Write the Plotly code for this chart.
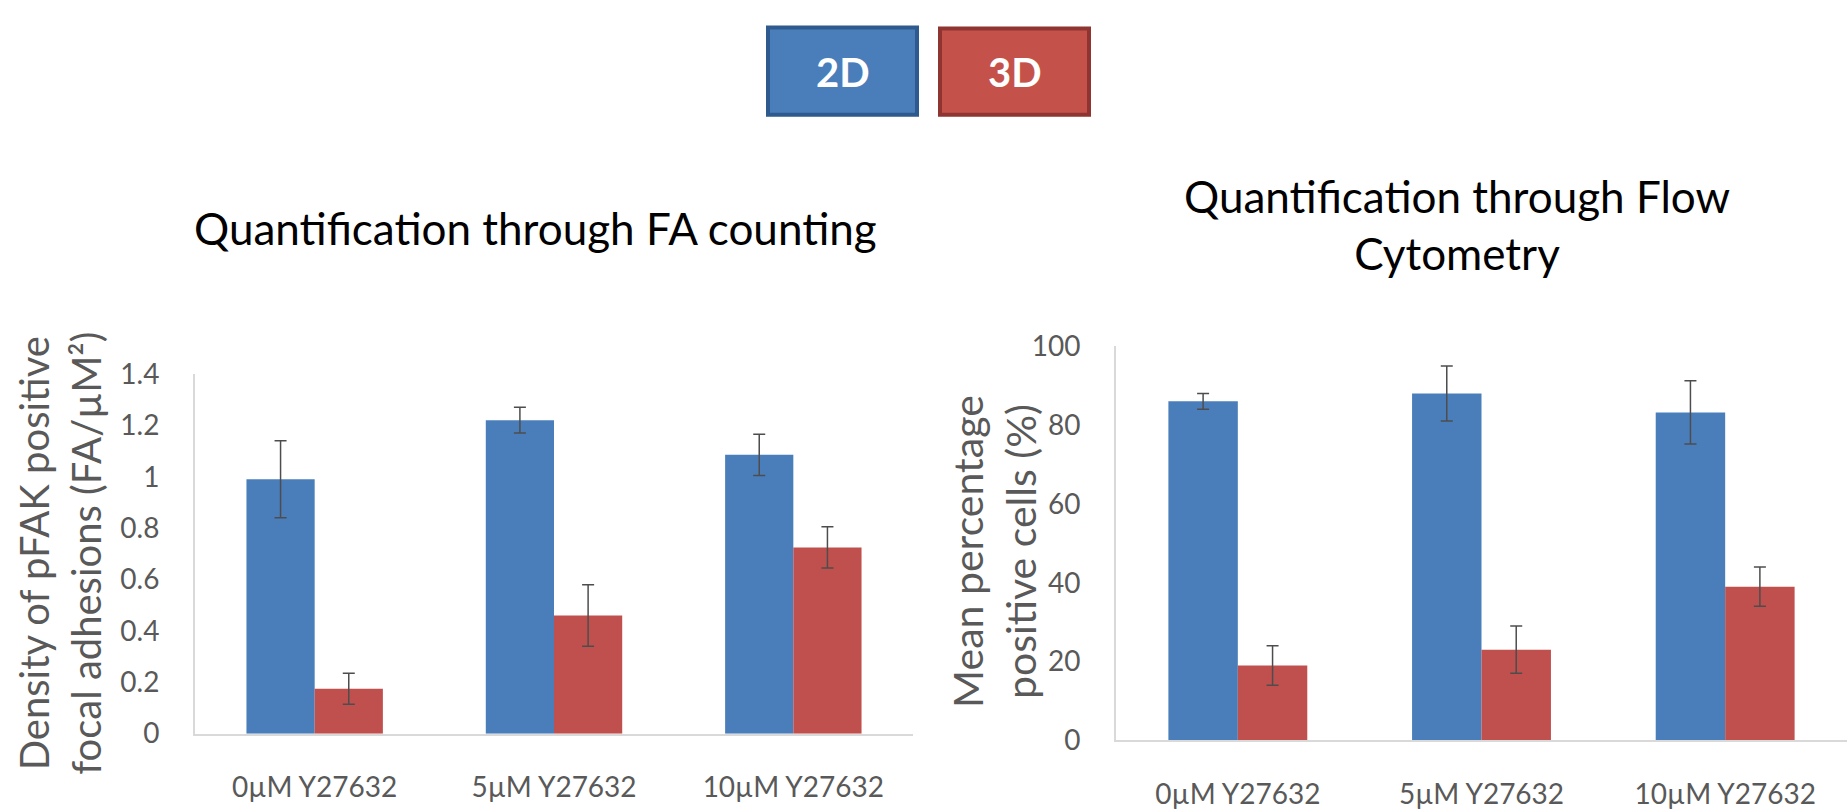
import plotly.graph_objects as go

categories = ["0µM Y27632", "5µM Y27632", "10µM Y27632"]
series_names = ["2D", "3D"]

fa_2d = [0.99, 1.22, 1.085]
fa_2d_err = [0.15, 0.05, 0.08]
fa_3d = [0.175, 0.46, 0.725]
fa_3d_err = [0.06, 0.12, 0.08]

flow_2d = [86, 88, 83.2]
flow_2d_err = [2, 7, 8]
flow_3d = [19, 23, 39]
flow_3d_err = [5, 6, 5]

fa_ticks = [0, 0.2, 0.4, 0.6, 0.8, 1, 1.2, 1.4]
fa_ticklabels = ["0", "0.2", "0.4", "0.6", "0.8", "1", "1.2", "1.4"]
flow_ticks = [0, 20, 40, 60, 80, 100]

BLUE = "#4A7EBB"
RED = "#C0504D"
ERR = "#4D4D4D"
GRAY_TXT = "#595959"
AXIS_LINE = "#D9D9D9"
FONT = "Lato"

W, H = 1847, 810

fig = go.Figure()

def add_bars(xa, ya, v2, e2, v3, e3):
    for name, vals, errs, col in [(series_names[0], v2, e2, BLUE), (series_names[1], v3, e3, RED)]:
        fig.add_trace(go.Bar(
            x=categories, y=vals, name=name, xaxis=xa, yaxis=ya,
            marker=dict(color=col, line=dict(width=0)),
            error_y=dict(type="data", array=errs, visible=True,
                         color=ERR, thickness=1.5, width=6),
            showlegend=False,
        ))

add_bars("x", "y", fa_2d, fa_2d_err, fa_3d, fa_3d_err)
add_bars("x2", "y2", flow_2d, flow_2d_err, flow_3d, flow_3d_err)

def px_x(p):
    return p / W

def px_y(p):
    return (H - p) / H

tick_font = dict(family=FONT, size=28, color=GRAY_TXT)

xaxis_common = dict(
    type="category", showgrid=False, zeroline=False,
    showline=True, linecolor=AXIS_LINE, linewidth=2,
    ticks="", tickfont=tick_font, ticklabelstandoff=28,
    fixedrange=True,
)
yaxis_common = dict(
    showgrid=False, zeroline=False, showline=True,
    linecolor=AXIS_LINE, linewidth=2, ticks="",
    tickfont=tick_font, ticklabelstandoff=28, fixedrange=True,
)

fig.update_layout(
    width=W, height=H,
    margin=dict(l=0, r=0, t=0, b=0),
    paper_bgcolor="white", plot_bgcolor="white",
    barmode="group", bargap=0.43, bargroupgap=0,
    font=dict(family=FONT),
    xaxis=dict(domain=[px_x(195), px_x(913)], anchor="y", **xaxis_common),
    yaxis=dict(domain=[px_y(748), px_y(372)], anchor="x", range=[0, 1.4],
               tickvals=fa_ticks, ticktext=fa_ticklabels, **yaxis_common),
    xaxis2=dict(domain=[px_x(1116), 1.0], anchor="y2", **xaxis_common),
    yaxis2=dict(domain=[px_y(755), px_y(343)], anchor="x2", range=[0, 100],
                tickvals=flow_ticks, **yaxis_common),
)

annotations = [
    dict(text="Quantification through FA counting", x=px_x(535), y=px_y(219),
         font=dict(family=FONT, size=44, color="black")),
    dict(text="Quantification through Flow<br>Cytometry", x=px_x(1457), y=px_y(216),
         font=dict(family=FONT, size=44, color="black")),
    dict(text="Density of pFAK positive<br>focal adhesions (FA/µM²)", x=px_x(60), y=px_y(560),
         textangle=-90, font=dict(family=FONT, size=40, color=GRAY_TXT)),
    dict(text="Mean percentage<br>positive cells (%)", x=px_x(994), y=px_y(558),
         textangle=-90, font=dict(family=FONT, size=41, color=GRAY_TXT)),
    dict(text="<b>2D</b>", x=px_x(842.5), y=px_y(56),
         font=dict(family=FONT, size=40, color="white")),
    dict(text="<b>3D</b>", x=px_x(1014.5), y=px_y(56),
         font=dict(family=FONT, size=40, color="white")),
]
for a in annotations:
    a.update(xref="paper", yref="paper", xanchor="center", yanchor="middle",
             showarrow=False)
fig.update_layout(annotations=annotations)

fig.update_layout(shapes=[
    dict(type="rect", xref="paper", yref="paper",
         x0=px_x(768), x1=px_x(917), y0=px_y(101), y1=px_y(10),
         fillcolor=BLUE, line=dict(color="#2F5A8E", width=4), layer="above"),
    dict(type="rect", xref="paper", yref="paper",
         x0=px_x(940), x1=px_x(1089), y0=px_y(101), y1=px_y(11),
         fillcolor="#C5524A", line=dict(color="#8E3431", width=4), layer="above"),
])

fig.write_html("out.html", config={"displayModeBar": False, "staticPlot": True},
               post_script="document.body.style.margin='0';document.body.style.overflow='hidden';")
